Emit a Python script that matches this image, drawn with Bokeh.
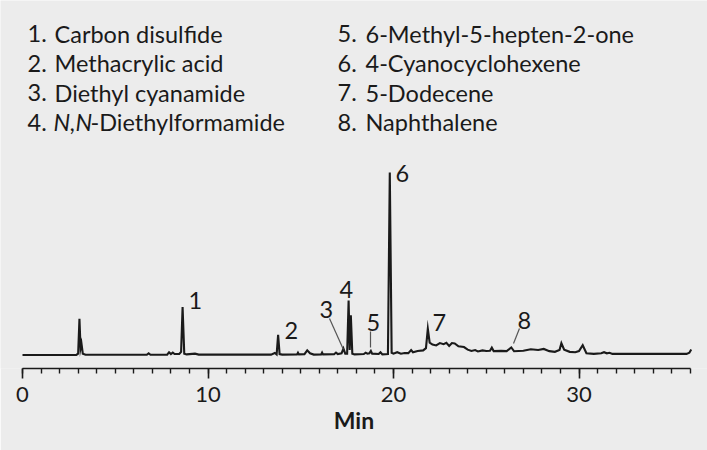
from bokeh.plotting import figure
from bokeh.models import Range1d, SingleIntervalTicker, ColumnDataSource, Label
from bokeh.core.properties import value
from bokeh.embed import file_html
from bokeh.resources import INLINE

# ---------------- data ----------------
time_min = [0.0, 2.9, 3.0, 3.07, 3.13, 3.18, 3.25, 3.4, 6.7, 6.8, 6.9, 7.8, 7.9, 8.0, 8.1, 8.2,
            8.45, 8.55, 8.63, 8.72, 8.85, 9.3, 9.5, 13.4, 13.6, 13.7, 13.78, 13.86, 14.0, 14.8,
            14.85, 14.9, 15.2, 15.35, 15.5, 15.7, 16.1, 16.15, 16.2, 16.8, 16.9, 17.0, 17.2, 17.3,
            17.4, 17.5, 17.58, 17.64, 17.7, 17.78, 17.9, 18.4, 18.5, 18.6, 18.7, 18.78, 18.85,
            19.2, 19.3, 19.4, 19.7, 19.8, 19.9, 20.0, 20.2, 20.4, 20.6, 20.8, 20.95, 21.05, 21.3,
            21.6, 21.75, 21.85, 21.95, 22.1, 22.3, 22.5, 22.7, 22.85, 23.0, 23.15, 23.3, 23.5,
            23.8, 24.0, 24.2, 24.4, 24.55, 24.8, 25.0, 25.2, 25.3, 25.4, 25.8, 26.1, 26.35, 26.5,
            27.0, 27.4, 27.8, 28.1, 28.4, 28.7, 28.95, 29.05, 29.2, 29.5, 29.8, 30.0, 30.2, 30.4,
            30.8, 31.2, 31.35, 31.5, 31.65, 31.8, 35.8, 35.95, 36.05]
signal = [0.3, 0.3, 1.0, 20.0, 4.0, 6.5, 1.0, 0.4, 0.4, 1.2, 0.4, 0.5, 1.8, 0.8, 1.6, 0.8,
          0.8, 2.0, 26.5, 1.0, 0.6, 1.0, 0.5, 0.5, 1.4, 0.6, 11.3, 0.8, 0.5, 0.6,
          1.5, 0.6, 0.7, 2.8, 1.2, 0.5, 0.6, 1.6, 0.6, 0.7, 1.6, 0.8, 1.2, 3.8,
          1.0, 1.0, 30.0, 3.0, 22.0, 1.0, 0.6, 0.8, 1.5, 1.0, 1.2, 2.5, 1.0,
          0.8, 1.8, 0.6, 0.8, 100.0, 1.5, 1.0, 1.8, 1.0, 1.4, 1.3, 3.0, 1.8, 2.5,
          2.8, 4.0, 14.6, 7.0, 6.0, 5.5, 6.8, 6.2, 6.9, 5.2, 6.8, 6.6, 5.0,
          4.6, 3.2, 2.5, 3.0, 2.2, 2.8, 2.5, 2.6, 4.3, 2.4, 2.5, 2.4, 4.4, 2.3,
          2.6, 3.4, 3.0, 3.6, 2.4, 2.0, 3.0, 6.7, 3.2, 2.0, 1.8, 2.4, 5.6, 1.2,
          0.9, 1.2, 1.8, 1.2, 1.5, 0.9, 0.9, 1.5, 3.3]

peak_ids = ["1", "2", "3", "4", "5", "6", "7", "8"]
compound_names = ["Carbon disulfide", "Methacrylic acid", "Diethyl cyanamide",
                  "N,N-Diethylformamide", "6-Methyl-5-hepten-2-one", "4-Cyanocyclohexene",
                  "5-Dodecene", "Naphthalene"]
# peak-number label anchors (time, signal)
label_time = [8.95, 14.12, 16.01, 17.09, 18.54, 20.11, 22.10, 26.68]
label_signal = [25.7, 9.8, 20.8, 31.7, 14.2, 95.1, 13.7, 15.3]
# leader lines for small peaks 3, 5, 8
leader_t0 = [16.55, 18.76, 26.79]
leader_s0 = [20.2, 13.1, 14.75]
leader_t1 = [17.30, 18.76, 26.47]
leader_s1 = [3.3, 4.4, 6.56]

x_ticks_interval = 10
x_min, x_max = 0, 36

# ---------------- layout helpers ----------------
BG = "#ececec"
INK = "#1a1a1a"
FONT = "Lato"
FS = "23.5px"
PX_PER_MIN = 18.55
PX_PER_UNIT = 1.83
ORIGIN_X = 22.0   # page px of t = 0
ORIGIN_Y = 355.0  # page px of signal = 0
TEXT_LIFT = 7.5   # px, compensates the renderer's baseline placement


def t_at(px):
    return (px - ORIGIN_X) / PX_PER_MIN


def s_at(py):
    return (ORIGIN_Y - py) / PX_PER_UNIT


W, H = 707, 450
AXIS_PY = 368
p = figure(width=W, height=H, output_backend="svg", toolbar_location=None,
           x_range=Range1d(t_at(0), t_at(W)),
           y_range=Range1d(s_at(AXIS_PY), s_at(0)),
           y_axis_location=None,
           min_border_left=0, min_border_right=0, min_border_top=0,
           min_border_bottom=H - AXIS_PY)
p.background_fill_color = BG
p.border_fill_color = BG
p.outline_line_color = None
p.grid.visible = False

# trace
p.line(time_min, signal, line_color=INK, line_width=2.1, line_join="miter")

# leader lines
p.segment(leader_t0, leader_s0, leader_t1, leader_s1, line_color="#555555", line_width=1.2)

# peak numbers
lift = TEXT_LIFT / PX_PER_UNIT
src = ColumnDataSource(dict(x=label_time, y=[v + lift for v in label_signal], t=peak_ids))
p.text(x="x", y="y", text="t", source=src, text_font=value(FONT), text_font_size=FS,
       text_color=INK, text_align="left", text_baseline="alphabetic")

# compound list (two columns of four)
row_base_py = [40.7, 70.2, 99.8, 129.3]
col_num_px = [27, 337]
col_txt_px = [54, 365]
for i, (pid, name) in enumerate(zip(peak_ids, compound_names)):
    col, row = divmod(i, 4)
    y = s_at(row_base_py[row] - TEXT_LIFT)
    p.add_layout(Label(x=t_at(col_num_px[col]), y=y, text=pid + ".", text_font=FONT,
                       text_font_size=FS, text_color=INK, text_baseline="alphabetic"))
    if name.startswith("N,N-"):
        p.add_layout(Label(x=t_at(col_txt_px[col] - 1), y=y, text="N,N", text_font=FONT,
                           text_font_style="italic", text_font_size=FS, text_color=INK,
                           text_baseline="alphabetic"))
        p.add_layout(Label(x=t_at(90), y=y, text=name[3:], text_font=FONT,
                           text_font_size=FS, text_color=INK, text_baseline="alphabetic"))
    else:
        p.add_layout(Label(x=t_at(col_txt_px[col]), y=y, text=name, text_font=FONT,
                           text_font_size=FS, text_color=INK, text_baseline="alphabetic"))

# x axis
ax = p.xaxis[0]
ax.ticker = SingleIntervalTicker(interval=x_ticks_interval, num_minor_ticks=10)
ax.bounds = (x_min, x_max)
ax.axis_line_color = INK
ax.axis_line_width = 1.6
ax.major_tick_line_color = INK
ax.minor_tick_line_color = INK
ax.major_tick_line_width = 1.6
ax.minor_tick_line_width = 1.4
ax.major_tick_in = 0
ax.major_tick_out = 10
ax.minor_tick_in = 0
ax.minor_tick_out = 5
ax.major_label_text_font = FONT
ax.major_label_text_font_size = "22px"
ax.major_label_text_color = INK
ax.major_label_standoff = 8
ax.axis_label = "Min"
ax.axis_label_text_font = FONT
ax.axis_label_text_font_style = "bold"
ax.axis_label_text_font_size = "23px"
ax.axis_label_text_color = INK
ax.axis_label_standoff = 1

html = file_html(p, INLINE)
html = html.replace("<body>", '<body style="background-color:%s;">' % BG, 1)
open("out.html", "w").write(html)
